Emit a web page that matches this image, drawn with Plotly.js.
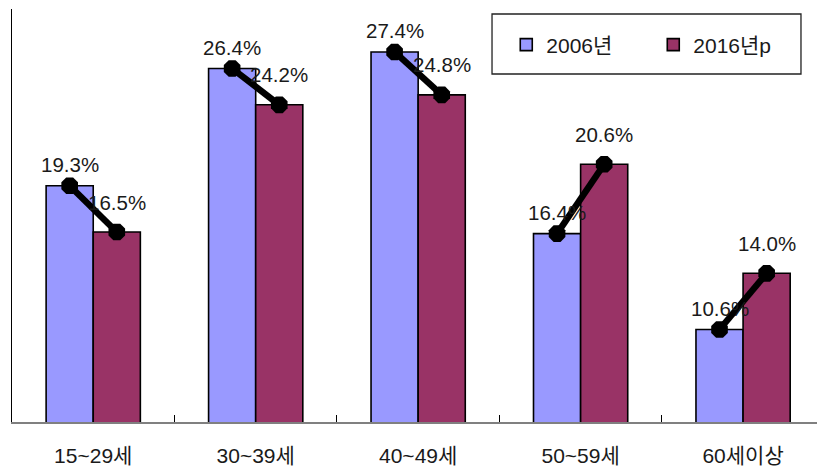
<!DOCTYPE html>
<html>
<head>
<meta charset="utf-8">
<script src="https://cdn.plot.ly/plotly-3.0.1.min.js"></script>
<style>html,body{margin:0;padding:0;background:#fff}</style>
</head>
<body>
<div id="chart" style="width:817px;height:469px"></div>
<script>
// Employment share by age group (%)
const categories = ['15~29세', '30~39세', '40~49세', '50~59세', '60세이상'];
const share2006 = [19.3, 26.4, 27.4, 16.4, 10.6];
const share2016 = [16.5, 24.2, 24.8, 20.6, 14.0];
const seriesNames = ['2006년', '2016년p'];

const FONT = '"Liberation Sans", Arial, "Noto Sans CJK KR", sans-serif';
const BARGAP = 0.42;
const half = (1 - BARGAP) / 4;          // distance from category centre to each bar centre
const idx = categories.map((_, i) => i);

// connector segments joining the two bar tops inside each age group
const lx = [], ly = [];
idx.forEach(i => {
  lx.push(i - half, i + half, null);
  ly.push(share2006[i], share2016[i], null);
});

const traces = [
  {
    type: 'bar', name: seriesNames[0], x: idx, y: share2006,
    marker: {color: '#9999FF', line: {color: '#000', width: 1.6}},
    hoverinfo: 'skip'
  },
  {
    type: 'bar', name: seriesNames[1], x: idx, y: share2016,
    marker: {color: '#993366', line: {color: '#000', width: 1.6}},
    hoverinfo: 'skip'
  },
  {
    type: 'scatter', mode: 'lines+markers', x: lx, y: ly,
    line: {color: '#000', width: 6.5},
    marker: {symbol: 'octagon', size: 18, color: '#000'},
    connectgaps: false, showlegend: false, hoverinfo: 'skip'
  }
];

// value labels above each point
const labels = [];
idx.forEach(i => {
  labels.push({x: i - half, y: share2006[i], text: share2006[i].toFixed(1) + '%',
    showarrow: false, yshift: 21, font: {family: FONT, size: 20.5, color: '#1a1a1a'}});
  labels.push({x: i + half, y: share2016[i], text: share2016[i].toFixed(1) + '%',
    showarrow: false, yshift: 30, font: {family: FONT, size: 20.5, color: '#1a1a1a'}});
});

const layout = {
  width: 817, height: 469,
  margin: {l: 12, r: 0, t: 9, b: 47},
  paper_bgcolor: '#fff', plot_bgcolor: '#fff',
  barmode: 'group', bargap: BARGAP, bargroupgap: 0,
  font: {family: FONT, color: '#1a1a1a'},
  xaxis: {
    range: [-0.5, 4.455],
    tickvals: idx, ticktext: categories, ticks: '',
    tickfont: {family: FONT, size: 21, color: '#1a1a1a'},
    ticklabelstandoff: 14,
    showline: true, linecolor: '#808080', linewidth: 2,
    showgrid: false, zeroline: false,
    minor: {tickvals: [0.5, 1.5, 2.5, 3.5], ticks: 'inside', ticklen: 7,
            tickcolor: '#000', tickwidth: 1, showgrid: false}
  },
  yaxis: {
    range: [5, 30],
    showline: true, linecolor: '#000', linewidth: 1.5,
    showticklabels: false, ticks: '', showgrid: false, zeroline: false
  },
  showlegend: true,
  legend: {
    orientation: 'h', x: 0.614, y: 0.9128, xanchor: 'left', yanchor: 'middle',
    entrywidth: 102,
    font: {family: FONT, size: 21, color: '#1a1a1a'},
    bgcolor: 'rgba(0,0,0,0)', borderwidth: 0
  },
  shapes: [{
    type: 'rect', xref: 'paper', yref: 'paper',
    x0: 0.5963, x1: 0.9801, y0: 0.8426, y1: 0.9879,
    line: {color: '#222', width: 1.3}, fillcolor: 'rgba(0,0,0,0)', layer: 'above'
  }],
  annotations: labels
};

Plotly.newPlot('chart', traces, layout, {displayModeBar: false, staticPlot: true});
</script>
</body>
</html>
